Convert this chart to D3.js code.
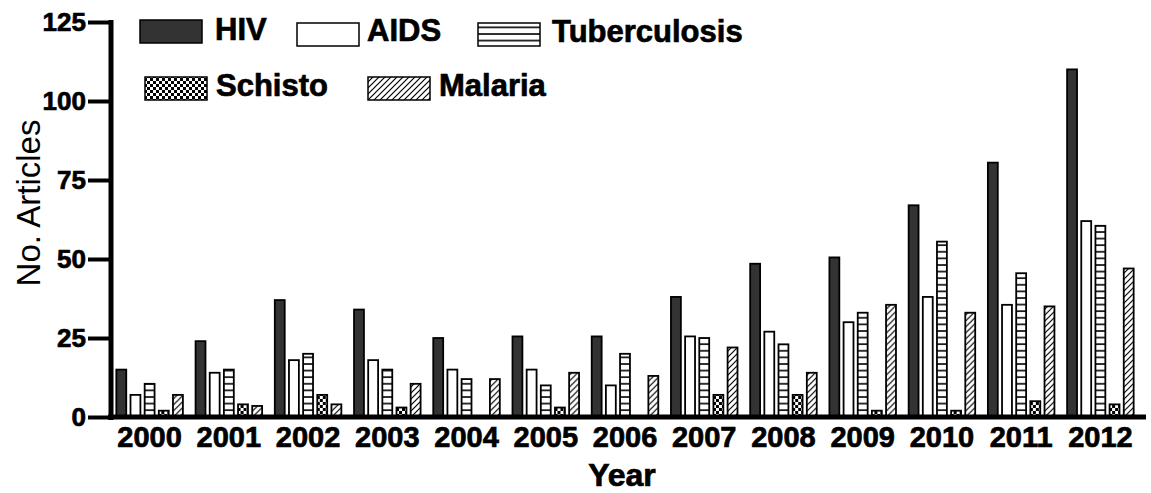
<!DOCTYPE html>
<html>
<head>
<meta charset="utf-8">
<script src="https://cdn.jsdelivr.net/npm/d3@7"></script>
<style>
  body { margin: 0; background: #fff; }
  text { font-family: "Liberation Sans", Arial, sans-serif; fill: #000; }
  .heavy { stroke: #000; stroke-width: 0.7px; }
</style>
</head>
<body>
<div id="chart"></div>
<script>
var years = ['2000','2001','2002','2003','2004','2005','2006','2007','2008','2009','2010','2011','2012'];
var series = ['HIV', 'AIDS', 'Tuberculosis', 'Schisto', 'Malaria'];
var hiv      = [15, 24, 37, 34, 25, 25.5, 25.5, 38, 48.5, 50.5, 67, 80.5, 110];
var aids     = [7, 14, 18, 18, 15, 15, 10, 25.5, 27, 30, 38, 35.5, 62];
var tb       = [10.5, 15, 20, 15, 12, 10, 20, 25, 23, 33, 55.5, 45.5, 60.5];
var schisto  = [2, 4, 7, 3, 0, 3, 0, 7, 7, 2, 2, 5, 4];
var malaria  = [7, 3.5, 4, 10.5, 12, 14, 13, 22, 14, 35.5, 33, 35, 47];
var yTicks = [0, 25, 50, 75, 100, 125];

var values = {'HIV': hiv, 'AIDS': aids, 'Tuberculosis': tb, 'Schisto': schisto, 'Malaria': malaria};
var fills = {'HIV': '#333', 'AIDS': '#fff', 'Tuberculosis': 'url(#pTb)', 'Schisto': 'url(#pChk)', 'Malaria': 'url(#pDiag)'};

var svg = d3.select('#chart')
    .append('svg')
    .attr('width', 1151)
    .attr('height', 493);

// patterns
var defs = svg.append('defs');
var pTb = defs.append('pattern').attr('id', 'pTb')
    .attr('patternUnits', 'userSpaceOnUse').attr('width', 10).attr('height', 6.6);
pTb.append('rect').attr('width', 10).attr('height', 6.6).attr('fill', '#fff');
pTb.append('line').attr('x1', 0).attr('x2', 10).attr('y1', 1).attr('y2', 1)
    .attr('stroke', '#000').attr('stroke-width', 1.6);

var pChk = defs.append('pattern').attr('id', 'pChk')
    .attr('patternUnits', 'userSpaceOnUse').attr('width', 6).attr('height', 6);
pChk.append('rect').attr('width', 6).attr('height', 6).attr('fill', '#fff');
pChk.append('rect').attr('width', 3).attr('height', 3).attr('fill', '#000');
pChk.append('rect').attr('x', 3).attr('y', 3).attr('width', 3).attr('height', 3).attr('fill', '#000');

var pDiag = defs.append('pattern').attr('id', 'pDiag')
    .attr('patternUnits', 'userSpaceOnUse').attr('width', 6).attr('height', 6);
pDiag.append('rect').attr('width', 6).attr('height', 6).attr('fill', '#fff');
pDiag.append('path').attr('d', 'M0,6 L6,0 M-1,1 L1,-1 M5,7 L7,5')
    .attr('stroke', '#000').attr('stroke-width', 1.2);

var y = d3.scaleLinear().domain([0, 125]).range([417, 22]);
var x0 = d3.scaleBand().domain(years).range([110, 1140]).paddingInner(0.16).paddingOuter(0.08);
var x1 = d3.scaleBand().domain(series).range([0, x0.bandwidth()]).paddingInner(0.3);

// bars
var groups = svg.append('g').selectAll('g')
    .data(years).enter()
    .append('g')
    .attr('transform', function(d) { return 'translate(' + x0(d) + ',0)'; });

groups.selectAll('rect')
    .data(function(yr, i) {
        return series.map(function(s) { return {key: s, value: values[s][i]}; });
    })
    .enter().append('rect')
    .filter(function(d) { return d.value > 0; })
    .attr('x', function(d) { return x1(d.key); })
    .attr('y', function(d) { return y(d.value); })
    .attr('width', x1.bandwidth())
    .attr('height', function(d) { return y(0) - y(d.value); })
    .attr('fill', function(d) { return fills[d.key]; })
    .attr('stroke', '#000')
    .attr('stroke-width', 1.8);

// y axis
var yAxis = svg.append('g')
    .attr('transform', 'translate(111,0)')
    .call(d3.axisLeft(y).tickValues(yTicks).tickSize(23).tickSizeOuter(0).tickPadding(2));
yAxis.select('.domain').attr('stroke-width', 5).attr('d', 'M0,20V420');
yAxis.selectAll('.tick line').attr('stroke-width', 4);
yAxis.selectAll('.tick text')
    .attr('class', 'heavy')
    .style('font-size', '26px').style('font-weight', 'bold')
    .style('font-family', '"Liberation Sans", Arial, sans-serif');

// x axis
var xAxis = svg.append('g')
    .attr('transform', 'translate(0,417)')
    .call(d3.axisBottom(x0).tickSize(0).tickPadding(9));
xAxis.select('.domain').attr('stroke-width', 5).attr('d', 'M108,0H1146');
xAxis.selectAll('.tick text')
    .attr('class', 'heavy')
    .style('font-size', '29px').style('font-weight', 'bold')
    .style('font-family', '"Liberation Sans", Arial, sans-serif');

// axis titles
svg.append('text')
    .text('Year')
    .attr('class', 'heavy')
    .attr('x', 622)
    .attr('y', 486)
    .attr('text-anchor', 'middle')
    .style('font-size', '32px')
    .style('font-weight', 'bold');

svg.append('text')
    .text('No. Articles')
    .attr('transform', 'translate(40,203) rotate(-90)')
    .attr('text-anchor', 'middle')
    .style('font-size', '33px');

// legend
var legendPos = [
    {key: 'HIV',          sx: 140, sy: 20, tx: 215, ty: 40},
    {key: 'AIDS',         sx: 297, sy: 23, tx: 367, ty: 41},
    {key: 'Tuberculosis', sx: 478, sy: 23, tx: 552, ty: 42},
    {key: 'Schisto',      sx: 145, sy: 77, tx: 216, ty: 96},
    {key: 'Malaria',      sx: 368, sy: 77, tx: 439, ty: 96}
];
var legend = svg.append('g').selectAll('g')
    .data(legendPos).enter().append('g');
legend.append('rect')
    .attr('x', function(d) { return d.sx; })
    .attr('y', function(d) { return d.sy; })
    .attr('width', 62)
    .attr('height', 23)
    .attr('fill', function(d) { return fills[d.key]; })
    .attr('stroke', '#000')
    .attr('stroke-width', 1.5);
legend.append('text')
    .text(function(d) { return d.key; })
    .attr('class', 'heavy')
    .attr('x', function(d) { return d.tx; })
    .attr('y', function(d) { return d.ty; })
    .style('font-size', '31px')
    .style('font-weight', 'bold');
</script>
</body>
</html>
